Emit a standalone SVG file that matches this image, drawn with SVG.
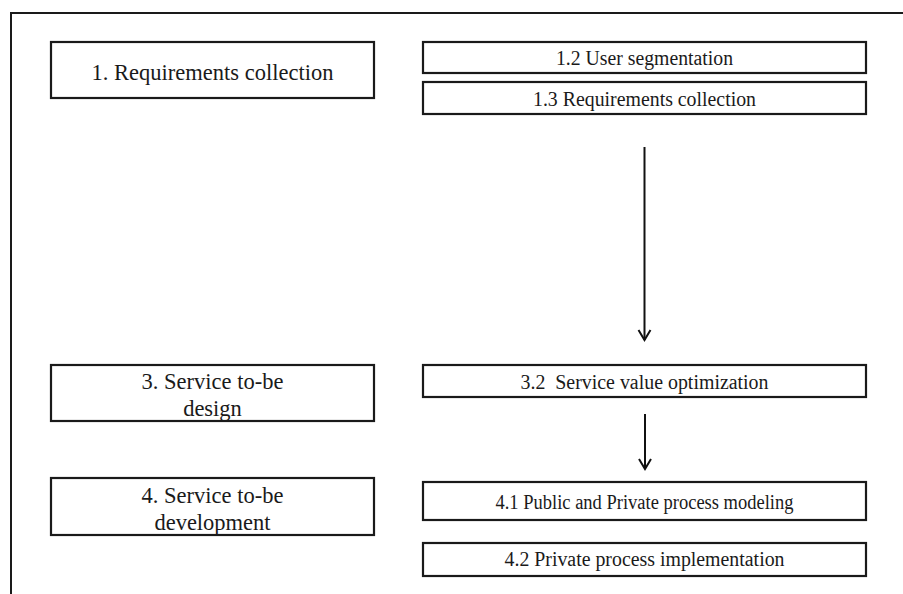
<svg xmlns="http://www.w3.org/2000/svg" width="903" height="594" viewBox="0 0 903 594">
  <style>
    .box { fill: #ffffff; stroke: #1a1a1a; stroke-width: 2.2; }
    .frame { fill: none; stroke: #1a1a1a; stroke-width: 2; }
    text { fill: #1a1a1a; text-anchor: middle; }
    .big { font-size: 22.5px; }
    .small { font-size: 20px; }
    .edge { fill: none; stroke: #111111; stroke-width: 2; }
  </style>
  <defs>
    <marker id="chev" markerUnits="userSpaceOnUse" markerWidth="20" markerHeight="20" refX="0" refY="0" viewBox="-12 -10 14 20" orient="auto">
      <path d="M-10,-6 L0,0 L-10,6" fill="none" stroke="#111111" stroke-width="2"/>
    </marker>
  </defs>

  <!-- outer frame: left and top edges only -->
  <path class="frame" d="M11,594 V13 H903"/>

  <g id="nodes" font-family="Liberation Serif, Tinos, DejaVu Serif, serif">
  <g id="n1">
    <rect class="box" x="51" y="42" width="323" height="56"/>
    <text class="big" x="212.5" y="80">1. Requirements collection</text>
  </g>
  <g id="n12">
    <rect class="box" x="423" y="42" width="443" height="31"/>
    <text class="small" x="644.5" y="65" textLength="177" lengthAdjust="spacingAndGlyphs">1.2 User segmentation</text>
  </g>
  <g id="n13">
    <rect class="box" x="423" y="82" width="443" height="32"/>
    <text class="small" x="644.5" y="106" textLength="223" lengthAdjust="spacingAndGlyphs">1.3 Requirements collection</text>
  </g>

  <g id="n3">
    <rect class="box" x="51" y="365" width="323" height="56"/>
    <text class="big" x="212.5" y="389">3. Service to-be</text>
    <text class="big" x="212.5" y="416">design</text>
  </g>
  <g id="n32">
    <rect class="box" x="423" y="365" width="443" height="32"/>
    <text class="small" x="644.5" y="389" textLength="248" lengthAdjust="spacingAndGlyphs" xml:space="preserve">3.2  Service value optimization</text>
  </g>

  <g id="n4">
    <rect class="box" x="51" y="478" width="323" height="57"/>
    <text class="big" x="212.5" y="503">4. Service to-be</text>
    <text class="big" x="212.5" y="530">development</text>
  </g>
  <g id="n41">
    <rect class="box" x="423" y="482" width="443" height="38"/>
    <text class="small" x="644.5" y="509" textLength="298" lengthAdjust="spacingAndGlyphs">4.1 Public and Private process modeling</text>
  </g>
  <g id="n42">
    <rect class="box" x="423" y="543" width="443" height="33"/>
    <text class="small" x="644.5" y="566" textLength="280" lengthAdjust="spacingAndGlyphs">4.2 Private process implementation</text>
  </g>
  </g>

  <g id="connectors">
    <line class="edge" x1="644.5" y1="147" x2="644.5" y2="340" marker-end="url(#chev)"/>
    <line class="edge" x1="645" y1="414" x2="645" y2="469" marker-end="url(#chev)"/>
  </g>
</svg>
